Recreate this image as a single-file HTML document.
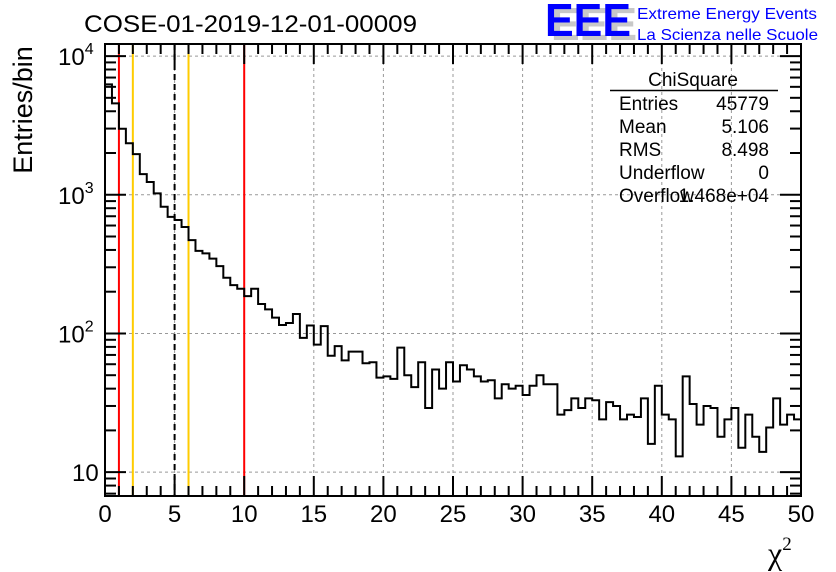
<!DOCTYPE html>
<html><head><meta charset="utf-8"><style>
html,body{margin:0;padding:0;background:#fff;}
svg{display:block;font-family:"Liberation Sans",sans-serif;}
</style></head><body>
<svg id="chart" width="836" height="572" viewBox="0 0 836 572">
<rect width="836" height="572" fill="#fff"/>
<g id="grid"></g>
<g id="vlines"></g>
<path id="hist" fill="none" stroke="#000" stroke-width="2"/>
<g id="axes"></g>
<text x="84" y="32" font-size="24" textLength="333" lengthAdjust="spacingAndGlyphs">COSE-01-2019-12-01-00009</text>
<g>
<text x="551" y="40" font-size="46" font-weight="bold" fill="#c8c8c8" textLength="86" lengthAdjust="spacingAndGlyphs">EEE</text>
<text x="545" y="36" font-size="46" font-weight="bold" fill="#0000ff" textLength="86" lengthAdjust="spacingAndGlyphs">EEE</text>
<text x="637" y="19" font-size="16" fill="#0000ff" textLength="180" lengthAdjust="spacingAndGlyphs">Extreme Energy Events</text>
<text x="637" y="40" font-size="16" fill="#0000ff" textLength="181" lengthAdjust="spacingAndGlyphs">La Scienza nelle Scuole</text>
</g>
<g font-size="19">
<text x="693" y="86" text-anchor="middle">ChiSquare</text>
<line x1="610" y1="90.5" x2="778" y2="90.5" stroke="#000" stroke-width="1.5"/>
<text x="619" y="110">Entries</text><text x="769" y="110" text-anchor="end">45779</text>
<text x="619" y="133">Mean</text><text x="769" y="133" text-anchor="end">5.106</text>
<text x="619" y="156">RMS</text><text x="769" y="156" text-anchor="end">8.498</text>
<text x="619" y="179">Underflow</text><text x="769" y="179" text-anchor="end">0</text>
<text x="619" y="202">Overflow</text><text x="769" y="202" text-anchor="end">1.468e+04</text>
</g>
<text x="32" y="110" font-size="27" transform="rotate(-90 32 110)" text-anchor="middle">Entries/bin</text>
<text x="768" y="564" font-size="32" font-family="Liberation Serif,serif">χ<tspan font-size="19" dy="-14">2</tspan></text>
</svg>
<script>
const binEdgesStart = 0;
const binWidth = 0.5;
const counts = [6250,4560,2990,2350,1965,1410,1235,1024,819,693,657,585,471,394,378,346,306,252,223,210,
186,210,163,149,130,115,119,138,93,114,83,113,69,81,64,74,74,61,62,48,
49,47,79,50,41,62,29,55,40,62,45,59,55,49,45,46,34,43,40,42,
36,42,50,43,43,26,28,34,29,34,33,24,32,30,24,26,25,34,16,42,
26,24,13,49,31,22,30,29,18,24,29,15,26,18,14,21,34,22,26,24];
const xTicks = [0,5,10,15,20,25,30,35,40,45,50];
const yTickExps = [1,2,3,4];
const redLines = [1,10];
const orangeLines = [2,6];
const meanLine = [5];

const L=105,R=801,T=44,B=496, xmin=0,xmax=50, lymin=0.828, lymax=4.087;
const X=v=>L+(v-xmin)/(xmax-xmin)*(R-L);
const Y=v=>B-(Math.log10(v)-lymin)/(lymax-lymin)*(B-T);
const NS='http://www.w3.org/2000/svg';
function mk(tag,attrs,parent){const e=document.createElementNS(NS,tag);for(const k in attrs)e.setAttribute(k,attrs[k]);parent.appendChild(e);return e;}
const grid=document.getElementById('grid'),axes=document.getElementById('axes'),vl=document.getElementById('vlines');
xTicks.forEach(t=>{if(t>xmin&&t<xmax){const g=mk('line',{x1:X(t),x2:X(t),y1:T,y2:B,stroke:'#999','stroke-dasharray':'3,3'},grid);

}});
yTickExps.forEach(e=>{const y=Y(Math.pow(10,e));const g=mk('line',{x1:L,x2:R,y1:y,y2:y,stroke:'#999','stroke-dasharray':'3,3'},grid);

});
function vline(v,col,dash,name){const l=mk('line',{x1:X(v),x2:X(v),y1:T,y2:B,stroke:col,'stroke-width':2},vl);if(dash)l.setAttribute('stroke-dasharray',dash);

}
redLines.forEach(v=>vline(v,'#ff0000',null,'red-cut-line'));
orangeLines.forEach(v=>vline(v,'#ffcc00',null,'orange-cut-line'));
meanLine.forEach(v=>vline(v,'#000',"6,4",'mean-line'));
let d='M'+X(binEdgesStart)+','+B;
counts.forEach((c,i)=>{const x0=X(binEdgesStart+i*binWidth),x1=X(binEdgesStart+(i+1)*binWidth),y=Y(c);d+=' L'+x0+','+y+' L'+x1+','+y;});
d+=' L'+X(binEdgesStart+counts.length*binWidth)+','+B;
document.getElementById('hist').setAttribute('d',d);
const fr=mk('rect',{x:L,y:T,width:R-L,height:B-T,fill:'none',stroke:'#000','stroke-width':2},axes);


for(let v=xmin;v<=xmax;v+=1){const big=v%5===0,len=big?20:10,x=X(v);
mk('line',{x1:x,x2:x,y1:B,y2:B-len,stroke:'#000','stroke-width':2},axes);
mk('line',{x1:x,x2:x,y1:T,y2:T+len,stroke:'#000','stroke-width':2},axes);}
xTicks.forEach(t=>{const tx=mk('text',{x:X(t),y:522,'font-size':24,'text-anchor':'middle'},axes);tx.textContent=t;

});
for(let e=0;e<=4;e++)for(let m=1;m<10;m++){const v=m*Math.pow(10,e);const lv=Math.log10(v);if(lv<lymin||lv>lymax)continue;const y=Y(v),len=m===1?21:11;
mk('line',{x1:L,x2:L+len,y1:y,y2:y,stroke:'#000','stroke-width':2},axes);
mk('line',{x1:R,x2:R-len,y1:y,y2:y,stroke:'#000','stroke-width':2},axes);}
yTickExps.forEach(e=>{const y=Y(Math.pow(10,e));const tx=mk('text',{x:e===1?72:58,y:y+9,'font-size':24},axes);


if(e===1){tx.textContent='10';}else{tx.textContent='10';const s=mk('tspan',{'font-size':16,dy:-11},tx);s.textContent=e;}});
</script>
</body></html>
